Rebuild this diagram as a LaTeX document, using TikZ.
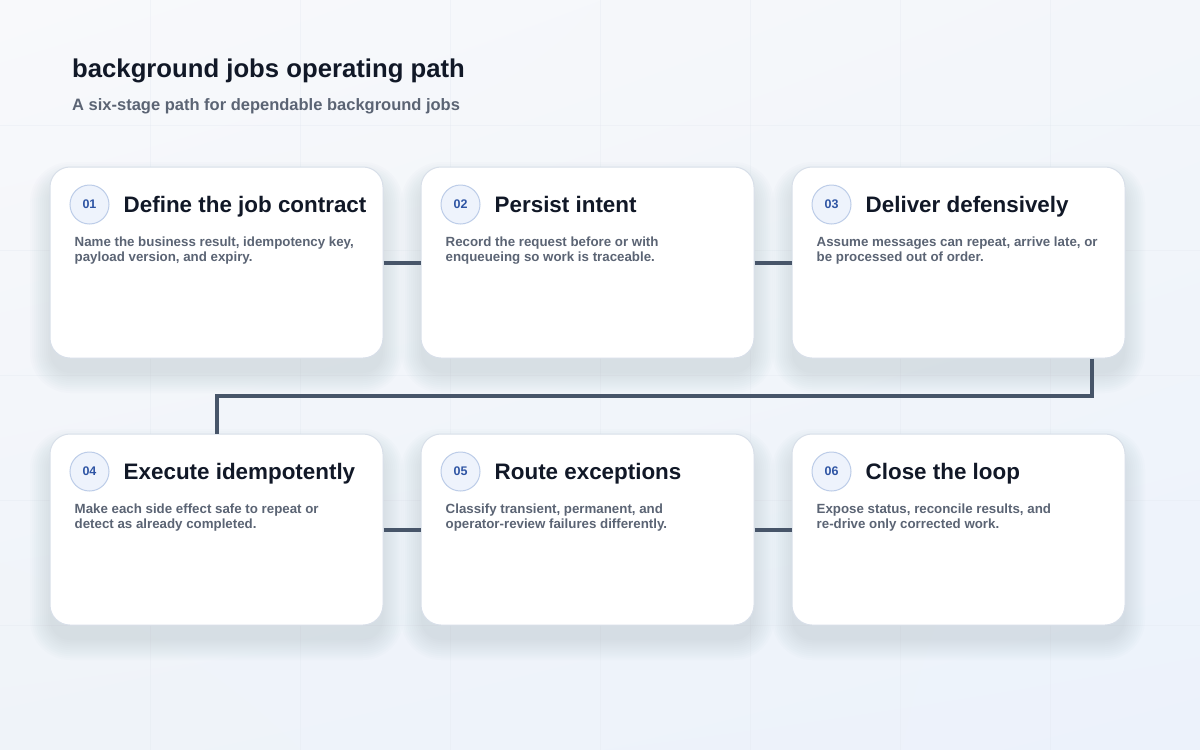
\documentclass[tikz,border=0pt]{standalone}
\usepackage{fontspec}
\setmainfont{Liberation Sans}
\usetikzlibrary{shadings}
\definecolor{bgA}{HTML}{F8F9FB}
\definecolor{bgB}{HTML}{F3F6FA}
\definecolor{bgC}{HTML}{EFF3F9}
\definecolor{bgD}{HTML}{ECF2FB}
\definecolor{gridcol}{HTML}{E3E8F0}
\definecolor{shadowcol}{HTML}{7F8FAE}
\definecolor{cardline}{HTML}{D8DFE9}
\definecolor{badgefill}{HTML}{EEF3FC}
\definecolor{badgeline}{HTML}{BCCCE8}
\definecolor{badgetext}{HTML}{2F55A4}
\definecolor{titlecol}{HTML}{111827}
\definecolor{bodycol}{HTML}{5B6474}
\definecolor{conncol}{HTML}{475569}
\begin{document}
\begin{tikzpicture}[x=1pt,y=-1pt,
  card/.style={draw=cardline, line width=1pt, fill=white, rounded corners=20pt,
    minimum width=333pt, minimum height=191pt, inner sep=0pt},
  badge/.style={circle, draw=badgeline, line width=1pt, fill=badgefill,
    minimum size=39pt, inner sep=0pt, text=badgetext,
    font=\bfseries\fontsize{12.5}{12}\selectfont},
  ctitle/.style={anchor=base west, inner sep=0pt, text=titlecol,
    font=\bfseries\fontsize{22.4}{26}\selectfont},
  cbody/.style={anchor=north west, inner sep=0pt, align=left, text=bodycol,
    font=\bfseries\fontsize{13.3}{15}\selectfont},
  conn/.style={draw=conncol, line width=4pt, line join=miter},
  gridline/.style={draw=gridcol, line width=1pt, opacity=0.35}]
\useasboundingbox (0,0) rectangle (1200,750);
% background
\shade[upper left=bgA, upper right=bgB, lower left=bgC, lower right=bgD] (0,0) rectangle (1200,750);
\foreach \gx in {150,300,...,1050} { \draw[gridline] (\gx,0) -- (\gx,750); }
\foreach \gy in {125,250,...,625} { \draw[gridline] (0,\gy) -- (1200,\gy); }
% header
\node[anchor=base west, inner sep=0pt, text=titlecol, font=\bfseries\fontsize{25.7}{30}\selectfont] (head) at (72,77) {background jobs operating path};
\node[anchor=base west, inner sep=0pt, text=bodycol, font=\bfseries\fontsize{16.5}{20}\selectfont] (sub) at (72,110) {A six-stage path for dependable background jobs};
% shadows
\foreach \cx/\cy in {216.5/262.5, 587.5/262.5, 958.5/262.5, 216.5/529.5, 587.5/529.5, 958.5/529.5} {
  \foreach \i in {0,2,...,20} {
    \fill[shadowcol, opacity=0.018, rounded corners={20pt+\i pt}]
      (\cx-166.5-\i, \cy-95.5-\i+15) rectangle (\cx+166.5+\i, \cy+95.5+\i+15);
  }
}
% cards
\node[card] (c1) at (216.5,262.5) {};
\node[card] (c2) at (587.5,262.5) {};
\node[card] (c3) at (958.5,262.5) {};
\node[card] (c4) at (216.5,529.5) {};
\node[card] (c5) at (587.5,529.5) {};
\node[card] (c6) at (958.5,529.5) {};
% connectors
\coordinate (turnA) at ([xshift=-34pt]c3.south east);
\draw[conn] (c1.east) -- (c2.west);
\draw[conn] (c2.east) -- (c3.west);
\draw[conn] (turnA) -- ++(0,37) -| (c4.north);
\draw[conn] (c4.east) -- (c5.west);
\draw[conn] (c5.east) -- (c6.west);
% card contents
\foreach \c/\num/\ttl/\body in {
  c1/01/{Define the job contract}/{Name the business result, idempotency key,\\payload version, and expiry.},
  c2/02/{Persist intent}/{Record the request before or with\\enqueueing so work is traceable.},
  c3/03/{Deliver defensively}/{Assume messages can repeat, arrive late, or\\be processed out of order.},
  c4/04/{Execute idempotently}/{Make each side effect safe to repeat or\\detect as already completed.},
  c5/05/{Route exceptions}/{Classify transient, permanent, and\\operator-review failures differently.},
  c6/06/{Close the loop}/{Expose status, reconcile results, and\\re-drive only corrected work.}} {
  \node[badge] (b\c) at ([xshift=40pt,yshift=-38pt]\c.north west) {\num};
  \node[ctitle] (t\c) at ([xshift=74pt,yshift=-46pt]\c.north west) {\ttl};
  \node[cbody] (d\c) at ([xshift=25pt,yshift=-70.5pt]\c.north west) {\body};
}
\end{tikzpicture}
\end{document}
